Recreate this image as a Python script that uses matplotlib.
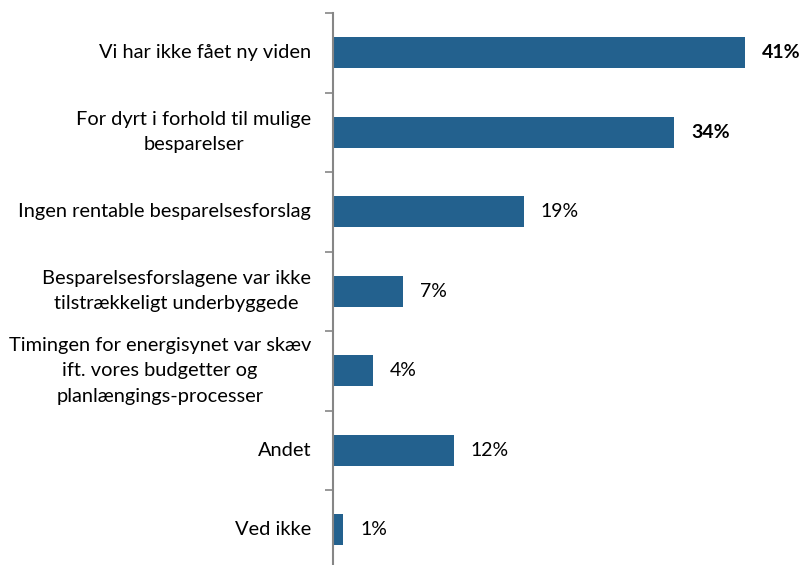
import matplotlib.pyplot as plt

plt.rcParams['font.family'] = ['Lato', 'DejaVu Sans']

# Data
categories = [
    'Vi har ikke fået ny viden',
    'For dyrt i forhold til mulige\nbesparelser',
    'Ingen rentable besparelsesforslag',
    'Besparelsesforslagene var ikke\ntilstrækkeligt underbyggede',
    'Timingen for energisynet var skæv\nift. vores budgetter og\nplanlængings-processer',
    'Andet',
    'Ved ikke',
]
values = [41, 34, 19, 7, 4, 12, 1]
bold_labels = [True, True, False, False, False, False, False]

bar_color = '#23618E'

fig = plt.figure(figsize=(8.05, 5.65), dpi=100)
ax = fig.add_axes([333 / 805, -4.5 / 565, 1 - 333 / 805, 556.5 / 565])

pos = list(range(len(categories)))
ax.barh(pos, values, height=0.39, color=bar_color)
ax.set_ylim(len(categories) - 0.5, -0.5)
ax.set_xlim(0, 47.0)

# Value labels
for p, v, b in zip(pos, values, bold_labels):
    ax.annotate(f'{v}%', xy=(v, p), xytext=(17, 0), textcoords='offset pixels',
                va='center', ha='left', fontsize=14,
                fontweight='bold' if b else 'normal', color='black')

# Category labels
for p, c in zip(pos, categories):
    ax.annotate(c, xy=(0, p), xytext=(-22, 0), textcoords='offset pixels',
                va='center', ha='right', multialignment='center', fontsize=14.4,
                color='black', linespacing=1.6)

# Axis styling
for s in ['top', 'right', 'bottom']:
    ax.spines[s].set_visible(False)
ax.spines['left'].set_color('#868686')
ax.spines['left'].set_linewidth(1.5)
ax.set_xticks([])
ax.set_yticks([p - 0.5 for p in pos] + [len(pos) - 0.5])
ax.set_yticklabels([])
ax.tick_params(axis='y', length=6, width=1.2, color='#868686', direction='out')

fig.savefig('out.png', dpi=100)
